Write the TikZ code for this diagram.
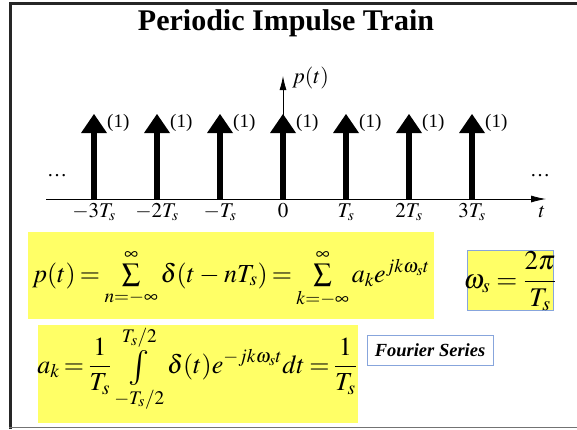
\documentclass[tikz,border=0pt]{standalone}
\usepackage{amsmath}
\usepackage{graphicx}
\usepackage{mathptmx}
\usepackage[no-math]{fontspec}
\setmainfont{Liberation Serif}
\usetikzlibrary{arrows.meta}
\definecolor{hiyellow}{RGB}{255,255,102}
\definecolor{boxblue}{RGB}{135,165,220}
\newcommand{\bigint}{\mathop{\raisebox{-0.3ex}{\scalebox{1.35}{$\textstyle\int$}}}}
\newcommand{\tightmath}{\thickmuskip=3mu plus 2mu\medmuskip=3mu plus 1mu}
\tikzset{
  ybox/.style={fill=hiyellow, draw=none, inner sep=0pt},
  bbox/.style={draw=boxblue, line width=0.8pt, inner sep=0pt},
  onelbl/.style={inner sep=0pt, anchor=base west, font=\fontsize{19}{21}\selectfont},
  ticklbl/.style={inner sep=0pt, anchor=base, font=\fontsize{21}{24}\selectfont},
  eqn/.style={inner sep=0pt, anchor=base, font=\fontsize{26}{30}\selectfont\tightmath},
  thinaxis/.style={line width=0.8pt},
}
\begin{document}
\begin{tikzpicture}[x=1pt,y=-1pt]
\useasboundingbox (0,0) rectangle (577,429);
% frame
\draw[line width=3pt, black!85] (10.5,429) -- (10.5,3) -- (577,3);
\draw[line width=1.5pt, black!55] (9,427.5) -- (577,427.5);
% title
\node[inner sep=0pt, anchor=base, font=\fontsize{30}{34}\selectfont\bfseries] (title) at (286,30) {Periodic Impulse Train};
% axes
\coordinate (al) at (46,199);
\coordinate (ar) at (546,199);
\coordinate (py) at (283,76);
\coordinate (p0) at (283,199);
\draw[thinaxis, -{Latex[length=15pt,width=7pt]}] (al) -- (ar);
\draw[thinaxis, -{Latex[length=14pt,width=7pt]}] (p0) -- (py);
\node[inner sep=0pt, anchor=base west, font=\fontsize{22}{24}\selectfont] (plabel) at (292,83) {$p(t)$};
\node[ticklbl] (tlabel) at (542,217) {$t$};
\node[inner sep=0pt, anchor=base, font=\fontsize{20}{22}\selectfont] (ldots) at (57,176) {\ldots};
\node[inner sep=0pt, anchor=base, font=\fontsize{20}{22}\selectfont] (rdots) at (540,176) {\ldots};
% impulses
\foreach \n/\x/\lab in {a/94/{-3T_s}, b/157/{-2T_s}, c/220/{-T_s}, d/283/{0}, e/346/{T_s}, f/409/{2T_s}, g/472/{3T_s}} {
  \coordinate (base\n) at (\x,199);
  \coordinate (top\n) at (\x,114);
  \fill (\x-3.3,199) rectangle (\x+3.3,132);
  \fill (\x-13,133) -- (top\n) -- (\x+13,133) -- cycle;
  \node[onelbl] (one\n) at (\x+13,127.5) {(1)};
  \node[ticklbl] (tick\n) at (\x,217) {$\lab$};
}
% equation boxes
\node[ybox, minimum width=406pt, minimum height=87pt] (box1) at (231,275.5) {};
\node[eqn] (eq1) at (231,282) {$p(t) = \sum\limits_{n=-\infty}^{\infty} \delta(t-nT_s) = \sum\limits_{k=-\infty}^{\infty} a_k e^{jk\omega_s t}$};
\node[ybox, bbox, minimum width=86pt, minimum height=60pt] (box2) at (510,280) {};
\node[eqn, font=\fontsize{27}{30}\selectfont] (eq2) at (510,288) {$\displaystyle \omega_s = \frac{2\pi}{T_s}$};
\node[ybox, minimum width=320pt, minimum height=98pt] (box3) at (198,374) {};
\node[eqn] (eq3) at (197,373) {$\displaystyle a_k = \frac{1}{T_s}\bigint\limits_{-T_s/2}^{T_s/2}\delta(t)e^{-jk\omega_s t}dt = \frac{1}{T_s}$};
\node[bbox, fill=white, minimum width=126pt, minimum height=30pt, font=\fontsize{18.5}{20}\selectfont\bfseries\itshape] (fs) at (430,350) {Fourier Series};
\end{tikzpicture}
\end{document}
